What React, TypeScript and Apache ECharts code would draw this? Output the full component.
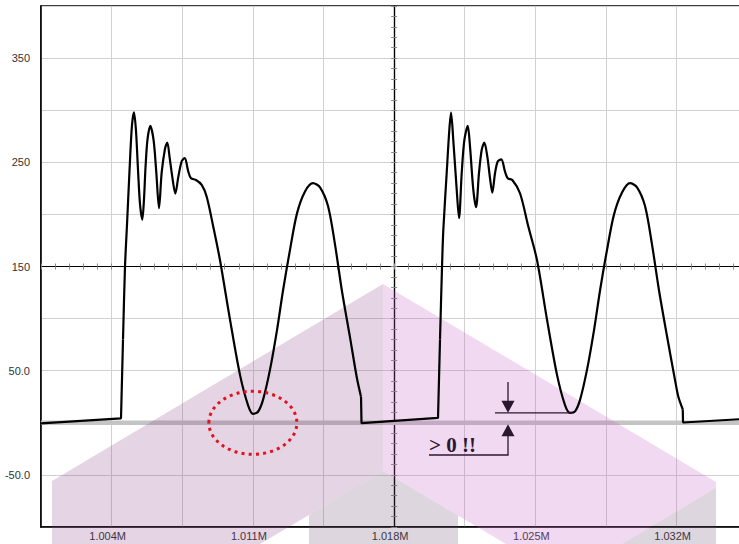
import React, { useEffect, useRef } from "react";
import * as echarts from "echarts";

// ---------- axis set-up ----------
const X_ORIGIN = 1000500; // value at the left edge of the plot
const X_END = 1036000;
const X_STEP = 3500;
const X_LABEL_START = 1004000;
const X_LABEL_STEP = 7000;
const Y_MIN = -100;
const Y_MAX = 400;
const Y_STEP = 50;
const CROSS_X = 1018000;
const CROSS_Y = 150;
const ZERO_LEVEL = 0;

// ---------- signal ----------
const leadIn: number[][] = [
  [1000500, -0.5], [1004465, 4.3],
];
const wave1: number[][] = [
  [1004564, 80], [1004663, 150], [1004762, 190], [1004911, 252], [1005010, 286],
  [1005109, 298], [1005208, 280], [1005307, 243], [1005406, 210], [1005520, 195],
  [1005605, 215], [1005679, 245], [1005778, 272], [1005917, 285], [1006081, 271],
  [1006215, 240], [1006348, 206], [1006480, 240], [1006645, 263], [1006759, 269],
  [1006872, 255], [1007006, 236], [1007156, 220], [1007305, 236], [1007473, 251],
  [1007622, 254], [1007800, 241], [1007934, 234.7], [1008182, 233], [1008464, 228.3],
  [1008712, 217], [1009039, 188], [1009371, 156], [1009867, 99], [1010362, 46],
  [1010759, 17], [1011007, 8.6], [1011255, 10.6], [1011502, 22], [1011849, 51],
  [1012196, 89], [1012494, 127], [1012840, 166], [1013187, 201], [1013584, 222],
  [1013980, 230], [1014327, 226], [1014724, 208], [1015071, 171], [1015418, 126],
  [1015814, 82], [1016146, 44], [1016359, 25],
];
const gap1: number[][] = [
  [1016384, -0.3], [1020175, 4.7],
];
const wave2: number[][] = [
  [1020274, 80], [1020374, 150], [1020438, 185], [1020606, 240], [1020735, 281],
  [1020820, 297.6], [1020933, 271], [1021102, 223.5], [1021216, 196.4], [1021350, 240],
  [1021479, 271], [1021647, 284.9], [1021761, 265], [1021925, 223.5], [1022059, 206.9],
  [1022207, 240], [1022341, 262], [1022470, 268.9], [1022619, 255.4], [1022752, 234.7],
  [1022866, 220.9], [1023000, 239.5], [1023134, 250.7], [1023312, 252.9], [1023496, 241],
  [1023630, 234.7], [1023858, 233], [1024239, 220.3], [1024651, 188.3], [1025082, 156],
  [1025577, 99], [1026073, 46], [1026469, 17], [1026717, 9.6], [1026965, 11],
  [1027213, 22], [1027560, 51], [1027907, 89], [1028204, 127], [1028551, 166],
  [1028898, 200], [1029294, 221], [1029691, 230], [1030038, 226], [1030434, 208],
  [1030781, 171], [1031128, 127], [1031525, 83], [1031921, 41], [1032085, 25],
  [1032303, 13],
];
const tail: number[][] = [
  [1032318, 0.3], [1035093, 3.4],
];

// annotation anchors (data values)
const ELLIPSE_CENTER = [1011000, 0];
const VALLEY2_MIN = [1026717, 9.6];
const NOTE_TEXT = "> 0 !!";

// ---------- layout ----------
const GRID_LEFT = 41;
const GRID_TOP = 6;
const GRID_W = ((X_END - X_ORIGIN) * 565) / 28000;
const GRID_H = 521;
const INK = "#2a1830";

export default function App() {
  const ref = useRef<HTMLDivElement>(null);

  useEffect(() => {
    if (!ref.current) return;
    const chart = echarts.init(ref.current, null, { renderer: "svg" });
    const shift = (pts: number[][]) => pts.map(([x, y]) => [x - X_ORIGIN, y]);
    const last = (a: number[][]) => a[a.length - 1];
    // straight connecting pieces (flat stretches and the sharp drops)
    const straight1 = shift([...leadIn, wave1[0]]);
    const straight2 = shift([last(wave1), ...gap1, wave2[0]]);
    const straight3 = shift([last(wave2), ...tail]);

    const span = X_END - X_ORIGIN;
    const crossXOffset = -((CROSS_X - X_ORIGIN) * GRID_W) / span;
    const crossYOffset = -((CROSS_Y - Y_MIN) * GRID_H) / (Y_MAX - Y_MIN);

    const crossX = (inside: boolean) => ({
      type: "value",
      min: 0,
      max: span,
      interval: 700,
      position: "bottom",
      offset: crossYOffset,
      axisLine: { show: true, onZero: false, lineStyle: { color: "#000", width: 1.2 } },
      axisTick: { show: true, inside, length: 3, lineStyle: { color: "#8c8c8c", width: 1 } },
      axisLabel: { show: false },
      splitLine: { show: false },
    });
    const crossY = (inside: boolean) => ({
      type: "value",
      min: Y_MIN,
      max: Y_MAX,
      interval: 10,
      position: "left",
      offset: crossXOffset,
      axisLine: { show: true, onZero: false, lineStyle: { color: "#000", width: 1.2 } },
      axisTick: { show: true, inside, length: 3, lineStyle: { color: "#8c8c8c", width: 1 } },
      axisLabel: { show: false },
      splitLine: { show: false },
    });

    const traceStyle = { color: "#000", width: 2.2 };
    const smoothTrace = (data: number[][]) => ({
      type: "line",
      data,
      symbol: "none",
      silent: true,
      smooth: 0.3,
      lineStyle: traceStyle,
      z: 5,
    });
    const straightTrace = (data: number[][]) => ({
      type: "line",
      data,
      symbol: "none",
      silent: true,
      lineStyle: traceStyle,
      z: 5,
    });

    const option: any = {
      animation: false,
      backgroundColor: "#fff",
      grid: {
        left: GRID_LEFT,
        top: GRID_TOP,
        width: GRID_W,
        height: GRID_H,
        show: true,
        borderColor: "#000",
        borderWidth: 1.5,
        backgroundColor: "transparent",
      },
      xAxis: [
        {
          type: "value",
          min: 0,
          max: span,
          interval: X_STEP,
          axisLine: { show: true, onZero: false, lineStyle: { color: "#000", width: 1.5 } },
          axisTick: { show: false },
          splitLine: { show: true, lineStyle: { color: "#d0d0d0", width: 1 } },
          axisLabel: {
            color: "#333",
            fontSize: 11,
            fontFamily: "Liberation Sans",
            margin: 3,
            padding: [0, 8, 0, 0],
            formatter: (v: number) => {
              const real = Math.round(v + X_ORIGIN);
              if (real >= X_LABEL_START && (real - X_LABEL_START) % X_LABEL_STEP === 0)
                return (real / 1e6).toFixed(3) + "M";
              return "";
            },
          },
        },
        crossX(false),
        crossX(true),
      ],
      yAxis: [
        {
          type: "value",
          min: Y_MIN,
          max: Y_MAX,
          interval: Y_STEP,
          axisLine: { show: true, onZero: false, lineStyle: { color: "#000", width: 1.5 } },
          axisTick: { show: false },
          splitLine: { show: true, lineStyle: { color: "#d0d0d0", width: 1 } },
          axisLabel: {
            color: "#333",
            fontSize: 11,
            fontFamily: "Liberation Sans",
            margin: 11,
            formatter: (v: number) =>
              Math.abs(Math.round(v) % 100) === 50 ? v.toPrecision(3) : "",
          },
        },
        crossY(false),
        crossY(true),
      ],
      series: [
        {
          type: "line",
          name: "zero",
          data: [[0, ZERO_LEVEL], [span, ZERO_LEVEL]],
          symbol: "none",
          silent: true,
          lineStyle: { color: "#c4c4c4", width: 4.5 },
          z: 2,
        },
        smoothTrace(shift(wave1)),
        smoothTrace(shift(wave2)),
        straightTrace(straight1),
        straightTrace(straight2),
        straightTrace(straight3),
      ],
    };
    chart.setOption(option);

    const toPx = (p: number[]) =>
      chart.convertToPixel({ seriesIndex: 1 }, [p[0] - X_ORIGIN, p[1]]) as number[];
    const [ecx, ecy] = toPx(ELLIPSE_CENTER);
    const [mx, my] = toPx(VALLEY2_MIN);
    const zy = toPx([X_ORIGIN, ZERO_LEVEL])[1];

    const leftFace = [[52, 481], [383, 284], [383, 471], [260, 544], [52, 544]];
    const rightFace = [[383, 284], [716, 482], [716, 488], [622, 544], [506, 544], [383, 471]];
    const innerChevron = [[383, 471], [458, 515.6], [458, 544], [309, 544], [309, 515]];
    const cornerFace = [[716, 488], [716, 544], [622, 544]];

    const ax = 508;
    const lineStyle = { stroke: INK, lineWidth: 1.3 };
    chart.setOption({
      graphic: [
        { type: "polygon", z: 3, silent: true, shape: { points: leftFace }, style: { fill: "rgba(130,60,130,0.22)" } },
        { type: "polygon", z: 3, silent: true, shape: { points: rightFace }, style: { fill: "rgba(200,90,200,0.23)" } },
        { type: "polygon", z: 3, silent: true, shape: { points: innerChevron }, style: { fill: "rgba(100,70,105,0.22)" } },
        { type: "polygon", z: 3, silent: true, shape: { points: cornerFace }, style: { fill: "rgba(100,70,105,0.22)" } },
        {
          type: "ellipse",
          z: 20,
          silent: true,
          shape: { cx: ecx, cy: ecy, rx: 44, ry: 31.5 },
          style: { fill: "none", stroke: "#e4101c", lineWidth: 3, lineDash: [3, 4.2] },
        },
        { type: "line", z: 20, silent: true, shape: { x1: 495, y1: my, x2: mx + 2, y2: my }, style: lineStyle },
        { type: "line", z: 20, silent: true, shape: { x1: ax, y1: 382, x2: ax, y2: my - 10 }, style: lineStyle },
        {
          type: "polygon",
          z: 20,
          silent: true,
          shape: { points: [[ax - 6.5, my - 12], [ax + 6.5, my - 12], [ax, my]] },
          style: { fill: INK },
        },
        {
          type: "polygon",
          z: 20,
          silent: true,
          shape: { points: [[ax, zy + 1.5], [ax - 6.5, zy + 13.5], [ax + 6.5, zy + 13.5]] },
          style: { fill: INK },
        },
        { type: "line", z: 20, silent: true, shape: { x1: ax, y1: zy + 12, x2: ax, y2: 455 }, style: lineStyle },
        { type: "line", z: 20, silent: true, shape: { x1: 429, y1: 455, x2: ax + 0.6, y2: 455 }, style: lineStyle },
        {
          type: "text",
          z: 20,
          silent: true,
          x: 429,
          y: 444.5,
          style: {
            text: NOTE_TEXT,
            fill: INK,
            fontFamily: "Liberation Serif",
            fontWeight: "bold",
            fontSize: 21,
            align: "left",
            verticalAlign: "middle",
          },
        },
      ],
    });

    return () => chart.dispose();
  }, []);

  return (
    <div
      style={{
        position: "fixed",
        left: 0,
        top: 0,
        width: 739,
        height: 544,
        overflow: "hidden",
        background: "#fff",
      }}
    >
      <div ref={ref} style={{ width: 800, height: 544 }} />
    </div>
  );
}
